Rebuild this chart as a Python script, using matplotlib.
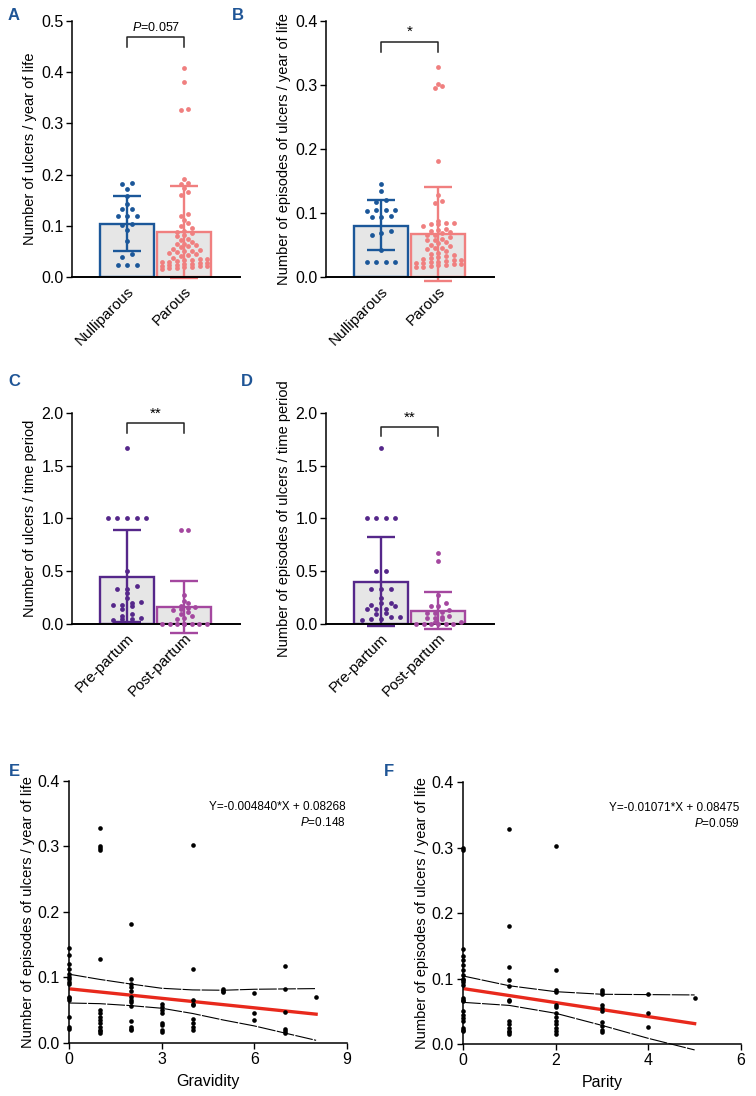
import numpy as np
import matplotlib
matplotlib.use("Agg")
import matplotlib.pyplot as plt

plt.rcParams['font.family'] = ['Liberation Sans', 'DejaVu Sans']
plt.rcParams['mathtext.fontset'] = 'custom'
plt.rcParams['mathtext.rm'] = 'Liberation Sans'
plt.rcParams['mathtext.it'] = 'Liberation Sans:italic'

# ---- data ----
parity_groups = ["Nulliparous", "Parous"]
partum_groups = ["Pre-partum", "Post-partum"]

# A: ulcers / year of life
a_nulli = [0.183, 0.181, 0.172, 0.158, 0.143, 0.133, 0.133, 0.119, 0.119, 0.119,
           0.103, 0.101, 0.091, 0.071, 0.045, 0.039, 0.023, 0.023, 0.023]
a_parous = [0.408, 0.380, 0.328, 0.326, 0.191, 0.183, 0.181, 0.173, 0.165, 0.160,
            0.123, 0.120, 0.112, 0.105, 0.100, 0.095, 0.090, 0.088, 0.085, 0.082,
            0.080, 0.075, 0.072, 0.068, 0.065, 0.064, 0.062, 0.060, 0.058, 0.055,
            0.053, 0.050, 0.050, 0.048, 0.046, 0.045, 0.042, 0.040, 0.038, 0.036,
            0.035, 0.034, 0.033, 0.032, 0.030, 0.029, 0.028, 0.027, 0.026, 0.025,
            0.024, 0.023, 0.022, 0.022, 0.021, 0.020, 0.019, 0.018, 0.017, 0.016]
a_mean = [0.103, 0.087]
a_upper = [0.158, 0.177]
a_lower = [0.050, -0.003]

# B: episodes / year of life
b_nulli = [0.145, 0.134, 0.120, 0.117, 0.104, 0.104, 0.104, 0.103, 0.095, 0.093,
           0.093, 0.072, 0.068, 0.066, 0.042, 0.024, 0.024, 0.024, 0.024]
b_parous = [0.328, 0.302, 0.298, 0.295, 0.181, 0.128, 0.118, 0.115, 0.088, 0.085,
            0.084, 0.083, 0.082, 0.080, 0.075, 0.074, 0.072, 0.070, 0.068, 0.066,
            0.065, 0.063, 0.060, 0.058, 0.057, 0.055, 0.053, 0.050, 0.048, 0.046,
            0.045, 0.043, 0.040, 0.038, 0.036, 0.034, 0.032, 0.031, 0.030, 0.028,
            0.027, 0.026, 0.025, 0.024, 0.023, 0.022, 0.022, 0.021, 0.020, 0.019,
            0.018, 0.017, 0.016, 0.015]
b_mean = [0.080, 0.067]
b_upper = [0.120, 0.140]
b_lower = [0.042, -0.006]

# C: ulcers / time period
c_pre = [1.667, 1.0, 1.0, 1.0, 1.0, 1.0, 0.5, 0.36, 0.33, 0.33, 0.29, 0.25,
         0.21, 0.20, 0.18, 0.18, 0.17, 0.14, 0.09, 0.08, 0.06, 0.05, 0.05, 0.04]
c_post = [0.89, 0.89, 0.27, 0.22, 0.20, 0.17, 0.16, 0.15, 0.14, 0.13, 0.11, 0.09,
          0.08, 0.06, 0.05, 0.0, 0.0, 0.0, 0.0, 0.0, 0.0, 0.0, 0.0]
c_mean = [0.448, 0.158]
c_upper = [0.89, 0.405]
c_lower = [0.015, -0.085]

# D: episodes / time period
d_pre = [1.667, 1.0, 1.0, 1.0, 1.0, 0.5, 0.5, 0.33, 0.33, 0.33, 0.25, 0.20, 0.20,
         0.18, 0.17, 0.14, 0.14, 0.14, 0.10, 0.09, 0.07, 0.07, 0.05, 0.05, 0.04]
d_post = [0.67, 0.60, 0.27, 0.20, 0.17, 0.17, 0.13, 0.11, 0.10, 0.10, 0.08, 0.07,
          0.06, 0.06, 0.05, 0.02, 0.02, 0.0, 0.0, 0.0, 0.0, 0.0, 0.0]
d_mean = [0.395, 0.123]
d_upper = [0.822, 0.300]
d_lower = [-0.02, -0.048]

# E: episodes vs gravidity
grav_levels = [0, 1, 2, 3, 4, 5, 6, 7, 8]
grav_y = [
    [0.145, 0.135, 0.120, 0.113, 0.105, 0.100, 0.098, 0.093, 0.090, 0.070, 0.068, 0.065, 0.040, 0.025, 0.022],
    [0.328, 0.300, 0.297, 0.295, 0.128, 0.050, 0.045, 0.040, 0.035, 0.030, 0.025, 0.020, 0.018, 0.015],
    [0.181, 0.098, 0.090, 0.085, 0.080, 0.070, 0.066, 0.063, 0.056, 0.034, 0.025, 0.022, 0.020],
    [0.060, 0.055, 0.050, 0.045, 0.030, 0.027, 0.020, 0.016],
    [0.302, 0.113, 0.065, 0.060, 0.058, 0.037, 0.030, 0.025, 0.020],
    [0.082, 0.080, 0.078],
    [0.077, 0.045, 0.035],
    [0.117, 0.083, 0.048, 0.021, 0.018, 0.015],
    [0.070],
]
grav_slope, grav_icpt = -0.004840, 0.08268
grav_ci_x = [0, 1, 2, 3, 4, 5, 6, 7, 8]
grav_ci_hi = [0.105, 0.097, 0.090, 0.0835, 0.081, 0.0805, 0.082, 0.0825, 0.083]
grav_ci_lo = [0.061, 0.060, 0.057, 0.053, 0.045, 0.035, 0.026, 0.015, 0.004]

# F: episodes vs parity
par_levels = [0, 1, 2, 3, 4, 5]
par_y = [
    [0.300, 0.297, 0.145, 0.135, 0.128, 0.120, 0.113, 0.105, 0.100, 0.098, 0.095, 0.090,
     0.070, 0.068, 0.065, 0.050, 0.045, 0.040, 0.035, 0.025, 0.022, 0.020],
    [0.328, 0.181, 0.117, 0.098, 0.089, 0.068, 0.066, 0.035, 0.030, 0.025, 0.020, 0.018, 0.015],
    [0.302, 0.113, 0.082, 0.080, 0.060, 0.057, 0.048, 0.042, 0.035, 0.030, 0.025, 0.020, 0.015],
    [0.083, 0.080, 0.077, 0.060, 0.055, 0.050, 0.033, 0.028, 0.022, 0.018],
    [0.077, 0.048, 0.026],
    [0.070],
]
par_slope, par_icpt = -0.01071, 0.08475
par_ci_x = [0, 1, 2, 3, 4, 5]
par_ci_hi = [0.104, 0.089, 0.080, 0.076, 0.0755, 0.075]
par_ci_lo = [0.0637, 0.059, 0.047, 0.0285, 0.0087, -0.009]

# ---- colours ----
BLUE = "#1b5799"
SALMON = "#f07f7f"
PURPLE = "#55278a"
MAGENTA = "#a4479f"
BARFILL = "#e6e6e6"
LETTER = "#1f5596"
RED = "#e8291c"

fig = plt.figure(figsize=(7.56, 10.96), dpi=100)


def swarm_x(ax, xc, vals, d_px, h_px=4.0, max_n=7):
    # rows of nearly equal values, spread sideways (GraphPad-like scatter)
    vals = np.asarray(vals, dtype=float)
    pts = ax.transData.transform(np.column_stack([np.full(len(vals), xc), vals]))
    ypx = pts[:, 1]
    order = np.argsort(ypx, kind="stable")
    rows, cur = [], [order[0]]
    for i in order[1:]:
        if ypx[i] - ypx[cur[0]] < h_px and len(cur) < max_n:
            cur.append(i)
        else:
            rows.append(cur)
            cur = [i]
    rows.append(cur)
    xs = pts[:, 0].copy()
    for r in rows:
        n = len(r)
        for j, i in enumerate(r):
            xs[i] += (j - (n - 1) / 2) * d_px
    back = ax.transData.inverted().transform(np.column_stack([xs, ypx]))
    return back[:, 0]


def bar_panel(rect, groups, data, means, upper, lower, colors, ymax, yticks,
              ylabel, sig_y, sig_text, sig_size, spacing):
    ax = fig.add_axes(rect)
    ax.set_xlim(-0.96, 1.97)
    ax.set_ylim(0, ymax)
    ax.bar(range(2), means, width=0.94, color=BARFILL, edgecolor=colors,
           linewidth=1.7, zorder=1)
    for i in range(2):
        eb = ax.errorbar(i, means[i], yerr=[[means[i] - lower[i]], [upper[i] - means[i]]],
                         color=colors[i], capsize=10, elinewidth=1.7, capthick=1.7,
                         zorder=2)
        for art in eb.get_children():
            art.set_clip_on(False)
        xs = swarm_x(ax, i, data[i], spacing[i])
        ax.scatter(xs, data[i], s=12, color=colors[i], zorder=3, clip_on=False,
                   linewidths=0)
    ax.spines[['top', 'right']].set_visible(False)
    ax.spines['left'].set_linewidth(1.1)
    ax.spines['bottom'].set_linewidth(1.4)
    ax.set_yticks(yticks)
    ax.set_yticklabels([f"{t:.1f}" for t in yticks])
    ax.tick_params(axis='y', length=4, width=1.0, labelsize=11.5, pad=2)
    ax.tick_params(axis='x', length=0, labelsize=11, pad=5)
    ax.set_xticks(range(2))
    ax.set_xticklabels(groups, rotation=45, ha='right', rotation_mode='anchor')
    ax.set_ylabel(ylabel, fontsize=10.5, labelpad=3)
    y0, y1 = sig_y
    ax.plot([0, 0, 1, 1], [y0, y1, y1, y0], color='#222222', lw=1.1, clip_on=False)
    ax.text(0.5, y1 + (ymax * 0.012), sig_text, ha='center', va='bottom',
            fontsize=sig_size)
    return ax


bar_panel([0.0952, 0.7473, 0.2222, 0.2336], parity_groups, [a_nulli, a_parous],
          a_mean, a_upper, a_lower, [BLUE, SALMON], 0.5, [0.0, 0.1, 0.2, 0.3, 0.4, 0.5],
          "Number of ulcers / year of life", (0.449, 0.469), "$P$=0.057", 9, (9.5, 7.6))
bar_panel([0.4312, 0.7473, 0.2222, 0.2336], parity_groups, [b_nulli, b_parous],
          b_mean, b_upper, b_lower, [BLUE, SALMON], 0.4, [0.0, 0.1, 0.2, 0.3, 0.4],
          "Number of episodes of ulcers / year of life", (0.352, 0.367), "*", 11, (9.5, 7.6))
bar_panel([0.0952, 0.4307, 0.2222, 0.1925], partum_groups, [c_pre, c_post],
          c_mean, c_upper, c_lower, [PURPLE, MAGENTA], 2.0, [0.0, 0.5, 1.0, 1.5, 2.0],
          "Number of ulcers / time period", (1.81, 1.905), "**", 11, (9.6, 7.4))
bar_panel([0.4312, 0.4307, 0.2222, 0.1925], partum_groups, [d_pre, d_post],
          d_mean, d_upper, d_lower, [PURPLE, MAGENTA], 2.0, [0.0, 0.5, 1.0, 1.5, 2.0],
          "Number of episodes of ulcers / time period", (1.78, 1.867), "**", 11, (9.6, 7.4))


def reg_panel(rect, levels, ys, slope, icpt, ci_x, ci_hi, ci_lo, xmax, xticks,
              xlabel, eq_text, p_text):
    ax = fig.add_axes(rect)
    ax.set_xlim(0, xmax)
    ax.set_ylim(0, 0.4)
    for lv, yy in zip(levels, ys):
        ax.scatter(np.full(len(yy), lv), yy, s=11, color='black', zorder=3,
                   clip_on=False, linewidths=0)
    xfit = np.array([levels[0], levels[-1]])
    ax.plot(xfit, icpt + slope * xfit, color=RED, lw=2.4, zorder=2)
    ax.plot(ci_x, ci_hi, color='black', lw=0.8, dashes=(16, 1.2), zorder=2)
    ax.plot(ci_x, ci_lo, color='black', lw=0.8, dashes=(16, 1.2), zorder=2,
            clip_on=False)
    ax.spines[['top', 'right']].set_visible(False)
    ax.spines[['left', 'bottom']].set_linewidth(1.1)
    ax.set_yticks([0.0, 0.1, 0.2, 0.3, 0.4])
    ax.set_yticklabels(["0.0", "0.1", "0.2", "0.3", "0.4"])
    ax.set_xticks(xticks)
    ax.tick_params(length=4.5, width=1.0, labelsize=11.5, pad=2)
    ax.set_xlabel(xlabel, fontsize=11.5, labelpad=5)
    ax.set_ylabel("Number of episodes of ulcers / year of life", fontsize=10.5, labelpad=2)
    ax.text(xmax * 0.995, 0.36, eq_text, ha='right', va='center', fontsize=8.5)
    ax.text(xmax * 0.995, 0.337, p_text, ha='right', va='center', fontsize=8.5)
    return ax


reg_panel([0.0913, 0.0484, 0.3677, 0.2390], grav_levels, grav_y, grav_slope, grav_icpt,
          grav_ci_x, grav_ci_hi, grav_ci_lo, 9, [0, 3, 6, 9], "Gravidity",
          "Y=-0.004840*X + 0.08268", "$P$=0.148")
reg_panel([0.6124, 0.0474, 0.3677, 0.2390], par_levels, par_y, par_slope, par_icpt,
          par_ci_x, par_ci_hi, par_ci_lo, 6, [0, 2, 4, 6], "Parity",
          "Y=-0.01071*X + 0.08475", "$P$=0.059")

for letter, (lx, ly) in {"A": (14, 15), "B": (238, 15), "C": (14, 381),
                         "D": (247, 381), "E": (14, 771), "F": (389, 771)}.items():
    fig.text(lx / 756, 1 - ly / 1096, letter, color=LETTER, fontsize=12,
             fontweight='bold', ha='center', va='center')

fig.savefig("out.png", dpi=100)
